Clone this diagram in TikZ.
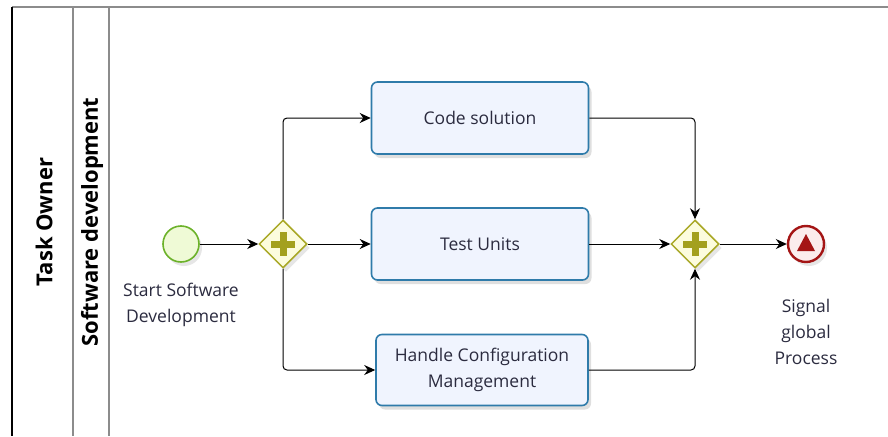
\documentclass[tikz,border=0pt]{standalone}
\usepackage{fontspec}
\setmainfont{Open Sans}
\usetikzlibrary{arrows.meta,shapes.geometric,shadows,calc}
\definecolor{txt}{HTML}{2B2B3F}
\definecolor{taskdraw}{HTML}{2F7BAA}
\definecolor{taskfill}{HTML}{F0F4FE}
\definecolor{gwdraw}{HTML}{A9A826}
\definecolor{gwfill}{HTML}{FCFCDD}
\definecolor{gwplus}{HTML}{A3A01E}
\definecolor{stdraw}{HTML}{6CB22A}
\definecolor{stfill}{HTML}{EFFAD6}
\definecolor{enddraw}{HTML}{A41515}
\definecolor{endfill}{HTML}{FBECEC}
\definecolor{lanegray}{HTML}{8C8C8C}
\tikzset{
  x=1pt,y=-1pt,
  task/.style={draw=taskdraw,line width=1.6pt,fill=taskfill,rounded corners=6pt,
    minimum width=217pt,minimum height=72pt,align=center,font=\fontsize{17.5}{26}\selectfont,text=txt,
    drop shadow={shadow xshift=3pt,shadow yshift=-4pt,opacity=0.25}},
  gateway/.style={diamond,draw=gwdraw,line width=1.5pt,fill=gwfill,minimum width=48pt,minimum height=48pt,inner sep=0pt,
    drop shadow={shadow xshift=3pt,shadow yshift=-4pt,opacity=0.2}},
  startev/.style={circle,draw=stdraw,line width=1.6pt,fill=stfill,minimum size=36pt,inner sep=0pt,
    drop shadow={shadow xshift=3pt,shadow yshift=-4pt,opacity=0.2}},
  endev/.style={circle,draw=enddraw,line width=2.4pt,fill=endfill,minimum size=36pt,inner sep=0pt,
    drop shadow={shadow xshift=3pt,shadow yshift=-4pt,opacity=0.2}},
  lbl/.style={align=center,font=\fontsize{17.5}{26}\selectfont,text=txt},
  lanetitle/.style={rotate=90,font=\bfseries\fontsize{22}{26}\selectfont,text=black},
  flow/.style={draw=black,line width=1pt,rounded corners=4pt,-{Stealth[length=11pt,width=10pt]}},
}
\newcommand{\gwplus}[1]{%
  \fill[gwplus] ($(#1)+(-12,-3.5)$) rectangle ($(#1)+(12,3.5)$);
  \fill[gwplus] ($(#1)+(-3.5,-12)$) rectangle ($(#1)+(3.5,12)$);}
\begin{document}
\begin{tikzpicture}
\useasboundingbox (0,0) rectangle (888,436);
% pool / lane lines
\draw[lanegray,line width=1.2pt] (12,7) -- (888,7);
\draw[black,line width=1.4pt] (12,7) -- (12,436);
\draw[lanegray,line width=1.2pt] (73,7) -- (73,436);
\draw[lanegray,line width=1.2pt] (109,7) -- (109,436);
\node[lanetitle] (pool) at (44,222) {Task Owner};
\node[lanetitle] (lane) at (92,222) {Software development};
% nodes
\node[startev] (start) at (181,244) {};
\node[lbl,anchor=north] (startlbl) at (181,280) {Start Software\\Development};
\node[gateway] (g1) at (283,244) {};
\gwplus{g1}
\node[task] (code) at (480,118) {Code solution};
\node[task] (test) at (480,244) {Test Units};
\node[task,minimum width=212pt,minimum height=71pt] (hcm) at (482,370) {Handle Configuration\\Management};
\node[gateway] (g2) at (695,244) {};
\gwplus{g2}
\node[endev] (end) at (806,244) {};
\fill[enddraw] ($(end)+(0,-10)$) -- ($(end)+(9,7)$) -- ($(end)+(-9,7)$) -- cycle;
\node[lbl,anchor=north] (endlbl) at (806,296) {Signal\\global\\Process};
% flows
\draw[flow] (start) -- (g1);
\draw[flow] (g1.north) |- (code.west);
\draw[flow] (g1) -- (test);
\draw[flow] (g1.south) |- (hcm.west);
\draw[flow] (code.east) -| (g2.north);
\draw[flow] (test) -- (g2);
\draw[flow] (hcm.east) -| (g2.south);
\draw[flow] (g2) -- (end);
\end{tikzpicture}
\end{document}
